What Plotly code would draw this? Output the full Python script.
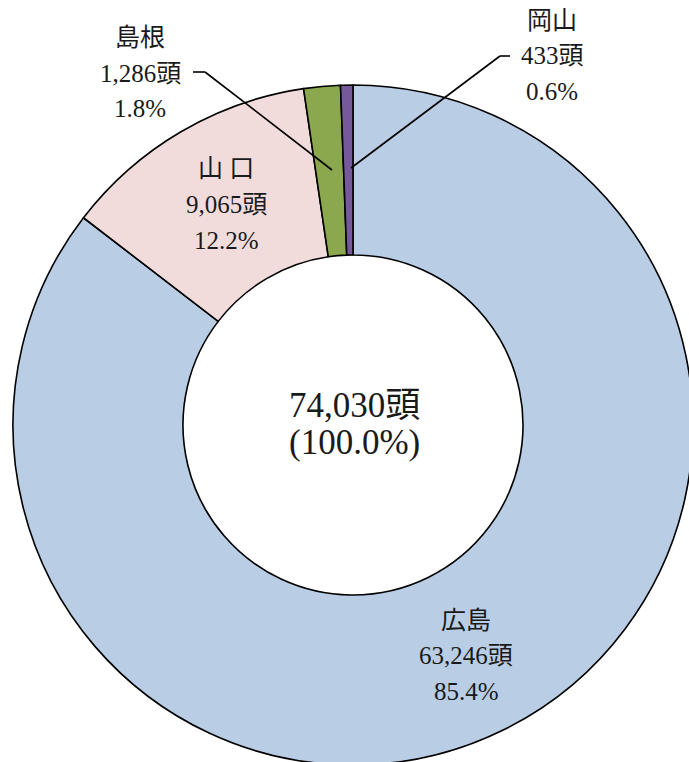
import plotly.graph_objects as go

# ---- data ----
prefectures = ["広島", "山口", "島根", "岡山"]
heads = [63246, 9065, 1286, 433]
percent_labels = ["85.4%", "12.2%", "1.8%", "0.6%"]
total_heads = 74030
total_percent = "(100.0%)"
colors = ["#B9CDE5", "#F2DCDB", "#8BA84E", "#76599A"]

# ---- canvas (larger than the viewport so the ring is cropped like the original) ----
W, H = 720, 800
CX, CY, R = 353, 425, 340


def px(x):
    return x / W


def py(y):
    return 1 - y / H


FONT = "Liberation Serif, 'Noto Sans CJK JP', serif"
TXT = "#1a1a1a"

fig = go.Figure(
    go.Pie(
        labels=prefectures,
        values=heads,
        hole=0.5,
        sort=False,
        direction="clockwise",
        rotation=0,
        textinfo="none",
        hoverinfo="label+value+percent",
        marker=dict(colors=colors, line=dict(color="#000000", width=1.6)),
        domain=dict(x=[px(CX - R), px(CX + R)], y=[py(CY + R), py(CY - R)]),
        showlegend=False,
    )
)

# label positions (pixel centres of the three lines of each label)
label_pos = {
    "広島": (466, 620),
    "山口": (226, 169),
    "島根": (140, 38),
    "岡山": (552, 20),
}
annotations = []
for name, n, pct in zip(prefectures, heads, percent_labels):
    x0, y0 = label_pos[name]
    lines = [name if name != "山口" else "山 口", f"{n:,}頭", pct]
    for k, t in enumerate(lines):
        annotations.append(
            dict(
                x=px(x0), y=py(y0 + k * 35.5), xref="paper", yref="paper",
                text=t, showarrow=False, xanchor="center", yanchor="middle",
                font=dict(family=FONT, size=25, color=TXT),
            )
        )

annotations.append(
    dict(x=px(CX + 1), y=py(405), xref="paper", yref="paper",
         text=f"{total_heads:,}頭", showarrow=False, xanchor="center", yanchor="middle",
         font=dict(family=FONT, size=35, color=TXT))
)
annotations.append(
    dict(x=px(CX + 1), y=py(442), xref="paper", yref="paper",
         text=total_percent, showarrow=False, xanchor="center", yanchor="middle",
         font=dict(family=FONT, size=35, color=TXT))
)

# leader lines
leaders = [
    [(193, 72), (205, 72), (332, 170)],   # 島根
    [(510, 56), (500, 56), (351, 168)],   # 岡山
]
shapes = []
for pts in leaders:
    for (xa, ya), (xb, yb) in zip(pts[:-1], pts[1:]):
        shapes.append(
            dict(type="line", xref="paper", yref="paper",
                 x0=px(xa), y0=py(ya), x1=px(xb), y1=py(yb),
                 line=dict(color="#000000", width=1.6))
        )

fig.update_layout(
    width=W, height=H,
    margin=dict(l=0, r=0, t=0, b=0),
    paper_bgcolor="#ffffff",
    plot_bgcolor="#ffffff",
    annotations=annotations,
    shapes=shapes,
)

fig.write_html(
    "out.html",
    config={"displayModeBar": False},
    post_script=(
        "document.body.style.margin='0';"
        "document.body.style.overflow='hidden';"
        "document.documentElement.style.overflow='hidden';"
    ),
)
